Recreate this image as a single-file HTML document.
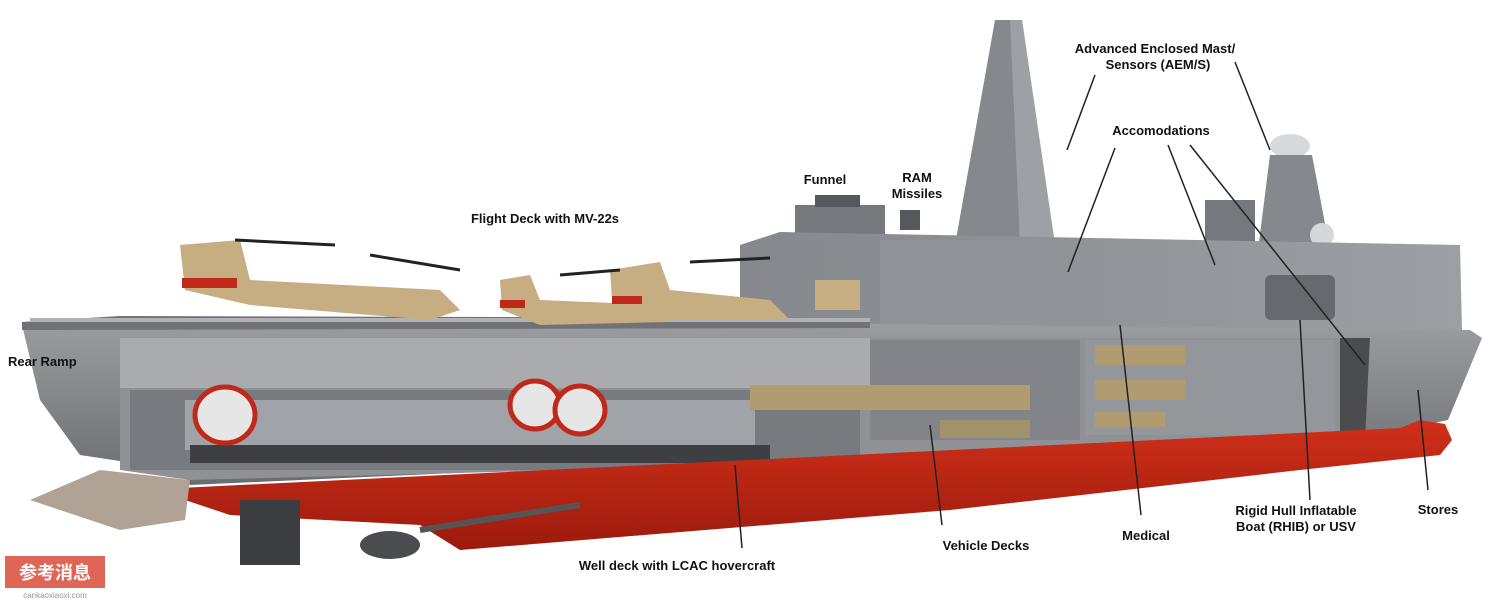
<!DOCTYPE html>
<html><head><meta charset="utf-8"><style>
html,body{margin:0;padding:0;background:#fff;width:1500px;height:606px;overflow:hidden}
svg{display:block}
text{font-family:"Liberation Sans",Arial,sans-serif;font-weight:bold;font-size:13px;fill:#111}
</style></head><body>
<svg width="1500" height="606" viewBox="0 0 1500 606" xmlns="http://www.w3.org/2000/svg">
<defs>
<linearGradient id="hull" x1="0" y1="0" x2="0" y2="1"><stop offset="0" stop-color="#9c9ea2"/><stop offset="1" stop-color="#6a6c70"/></linearGradient>
<linearGradient id="sup" x1="0" y1="0" x2="1" y2="0"><stop offset="0" stop-color="#85888d"/><stop offset="1" stop-color="#9c9fa4"/></linearGradient>
<linearGradient id="red" x1="0" y1="0" x2="0" y2="1"><stop offset="0" stop-color="#d0301a"/><stop offset="1" stop-color="#9c1a0c"/></linearGradient>
</defs>
<!-- main mast -->
<polygon points="995,20 1022,20 1055,245 955,245" fill="#85888d"/>
<polygon points="1010,20 1022,20 1055,245 1020,245" fill="#9da0a5"/>
<!-- rear mast -->
<ellipse cx="1290" cy="146" rx="20" ry="12" fill="#d7d9dc"/>
<polygon points="1270,155 1312,155 1330,250 1258,250" fill="#85888d"/>
<circle cx="1322" cy="235" r="12" fill="#d5d7da"/>
<!-- funnel -->
<rect x="795" y="205" width="90" height="40" fill="#75787d"/>
<rect x="815" y="195" width="45" height="12" fill="#55585c"/>
<rect x="900" y="210" width="20" height="20" fill="#55585c"/>
<rect x="1205" y="200" width="50" height="50" fill="#75787d"/>
<!-- superstructure -->
<polygon points="740,245 780,232 1460,245 1462,330 740,330" fill="url(#sup)"/>
<polygon points="880,240 1080,240 1080,330 880,330" fill="#909398"/>
<rect x="1265" y="275" width="70" height="45" rx="6" fill="#66696e"/>
<!-- hull -->
<polygon points="22,325 300,318 1470,330 1482,338 1448,420 1400,430 190,485 180,470 80,455 40,400" fill="url(#hull)"/>
<!-- flight deck -->
<polygon points="22,322 120,316 870,318 870,328 22,330" fill="#6f7277"/>
<rect x="30" y="318" width="840" height="4" fill="#b0b2b6"/>
<!-- hangar / well deck interior -->
<polygon points="120,338 1340,338 1340,450 190,480 120,470" fill="#8f9195"/>
<rect x="120" y="338" width="750" height="50" fill="#a9abaf"/>
<rect x="130" y="390" width="730" height="80" fill="#777a7e"/>
<rect x="185" y="400" width="570" height="50" fill="#a0a3a8"/>
<rect x="190" y="445" width="580" height="18" fill="#3d3f42"/>
<ellipse cx="225" cy="415" rx="30" ry="28" fill="#e6e6e6" stroke="#c0281a" stroke-width="5"/>
<ellipse cx="535" cy="405" rx="25" ry="24" fill="#e6e6e6" stroke="#c0281a" stroke-width="5"/>
<ellipse cx="580" cy="410" rx="25" ry="24" fill="#e6e6e6" stroke="#c0281a" stroke-width="5"/>
<rect x="870" y="340" width="210" height="100" fill="#82848a"/>
<rect x="1085" y="340" width="250" height="95" fill="#93969a"/>
<rect x="750" y="385" width="280" height="25" fill="#b09c70"/>
<rect x="940" y="420" width="90" height="18" fill="#a0926a"/>
<rect x="1095" y="345" width="90" height="20" fill="#b09c70"/>
<rect x="1095" y="380" width="90" height="20" fill="#b09c70"/>
<rect x="1095" y="412" width="70" height="15" fill="#b09c70"/>
<polygon points="1340,338 1370,338 1365,440 1340,445" fill="#4a4c50"/>
<!-- red underbody -->
<polygon points="180,488 1400,428 1420,420 1445,424 1452,440 1440,455 1300,470 950,510 460,550 420,525 230,515 185,500" fill="url(#red)"/>
<!-- ramp -->
<polygon points="30,500 100,470 190,480 185,520 120,530" fill="#b0a294"/>
<polygon points="240,500 300,500 300,565 240,565" fill="#3b3d40"/>
<ellipse cx="390" cy="545" rx="30" ry="14" fill="#4a4c50"/>
<line x1="420" y1="530" x2="580" y2="505" stroke="#555" stroke-width="6"/>
<!-- aircraft -->
<g fill="#c6ad82">
<polygon points="180,245 240,240 250,280 440,290 460,310 430,320 250,305 185,290"/>
<polygon points="500,280 530,275 540,300 660,305 670,322 540,325 502,310"/>
<polygon points="610,270 660,262 670,290 770,300 790,320 660,320 612,300"/>
<rect x="815" y="280" width="45" height="30"/>
</g>
<g fill="#c0281a"><rect x="182" y="278" width="55" height="10"/><rect x="500" y="300" width="25" height="8"/><rect x="612" y="296" width="30" height="8"/></g>
<g stroke="#222" stroke-width="3"><line x1="235" y1="240" x2="335" y2="245"/><line x1="370" y1="255" x2="460" y2="270"/><line x1="560" y1="275" x2="620" y2="270"/><line x1="690" y1="262" x2="770" y2="258"/></g>
<!-- labels -->
<text x="1155" y="53" text-anchor="middle">Advanced Enclosed Mast/</text>
<text x="1158" y="69" text-anchor="middle">Sensors (AEM/S)</text>
<text x="1161" y="135" text-anchor="middle">Accomodations</text>
<text x="825" y="184" text-anchor="middle">Funnel</text>
<text x="917" y="182" text-anchor="middle">RAM</text>
<text x="917" y="198" text-anchor="middle">Missiles</text>
<text x="545" y="223" text-anchor="middle">Flight Deck with MV-22s</text>
<text x="8" y="366">Rear Ramp</text>
<text x="677" y="570" text-anchor="middle">Well deck with LCAC hovercraft</text>
<text x="986" y="550" text-anchor="middle">Vehicle Decks</text>
<text x="1146" y="540" text-anchor="middle">Medical</text>
<text x="1296" y="515" text-anchor="middle">Rigid Hull Inflatable</text>
<text x="1296" y="531" text-anchor="middle">Boat (RHIB) or USV</text>
<text x="1438" y="514" text-anchor="middle">Stores</text>
<g stroke="#222" stroke-width="1.5">
<line x1="1095" y1="75" x2="1067" y2="150"/><line x1="1235" y1="62" x2="1270" y2="150"/>
<line x1="1115" y1="148" x2="1068" y2="272"/><line x1="1168" y1="145" x2="1215" y2="265"/><line x1="1190" y1="145" x2="1365" y2="365"/>
<line x1="742" y1="548" x2="735" y2="465"/><line x1="942" y1="525" x2="930" y2="425"/>
<line x1="1141" y1="515" x2="1120" y2="325"/><line x1="1310" y1="500" x2="1300" y2="320"/><line x1="1428" y1="490" x2="1418" y2="390"/>
</g>
<!-- watermark -->
<rect x="5" y="556" width="100" height="32" fill="#d94a3a" opacity="0.85"/>
<text x="55" y="579" text-anchor="middle" style="font-family:'Liberation Sans','Noto Sans CJK SC',sans-serif;font-size:18px;fill:#fff">参考消息</text>
<text x="55" y="598" text-anchor="middle" style="font-size:8px;font-weight:normal;fill:#999">cankaoxiaoxi.com</text>
</svg>
</body></html>
